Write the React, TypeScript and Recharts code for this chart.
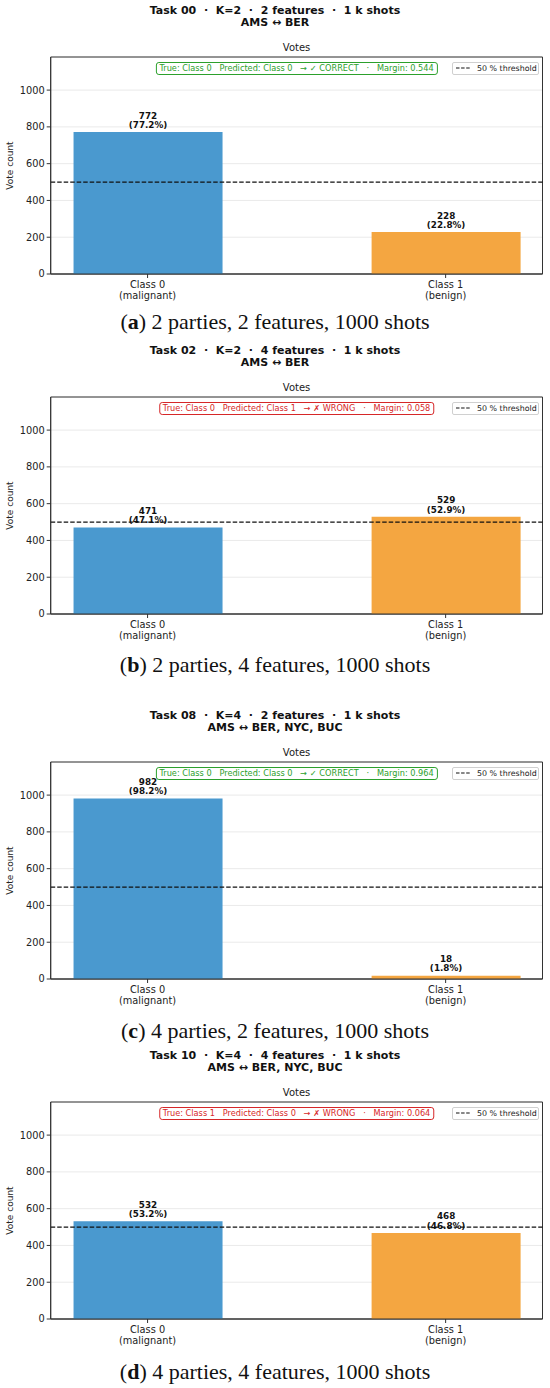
import { BarChart, Bar, XAxis, YAxis, CartesianGrid, ReferenceLine, ReferenceArea, LabelList, Cell } from 'recharts';

const classNames = ['Class 0', 'Class 1'];
const classNotes = ['(malignant)', '(benign)'];
const classPositions = [0, 1];
const barColors = ['#4a99cf', '#f4a641'];

const taskTitles = [
  'Task 00  ·  K=2  ·  2 features  ·  1 k shots',
  'Task 02  ·  K=2  ·  4 features  ·  1 k shots',
  'Task 08  ·  K=4  ·  2 features  ·  1 k shots',
  'Task 10  ·  K=4  ·  4 features  ·  1 k shots',
];
const routes = ['AMS ↔ BER', 'AMS ↔ BER', 'AMS ↔ BER, NYC, BUC', 'AMS ↔ BER, NYC, BUC'];
const class0Votes = [772, 471, 982, 532];
const class1Votes = [228, 529, 18, 468];
const trueClass = [0, 0, 0, 1];
const predictedClass = [0, 1, 0, 0];
const margins = ['0.544', '0.058', '0.964', '0.064'];
const captionLetters = ['a', 'b', 'c', 'd'];
const captionTexts = [
  '2 parties, 2 features, 1000 shots',
  '2 parties, 4 features, 1000 shots',
  '4 parties, 2 features, 1000 shots',
  '4 parties, 4 features, 1000 shots',
];
const yTicks = [0, 200, 400, 600, 800, 1000];
const yMax = 1180;
const threshold = 500;
const totalShots = 1000;
const xDomain = [-0.325, 1.325];

// layout (page pixels)
const plotTops = [56.7, 396.7, 761.7, 1101.7];
const captionYs = [322, 665, 1031, 1372];
const PLOT_LEFT = 50.7;
const PLOT_RIGHT = 542.5;
const PLOT_H = 217;
const SANS = '"DejaVu Sans", sans-serif';

const XTick = (props: any) => {
  const { x, y, payload } = props;
  const i = payload.value;
  return (
    <text x={x} y={y} textAnchor="middle" fontSize={9.8} fill="#222" fontFamily={SANS}>
      <tspan x={x} dy={8}>{classNames[i]}</tspan>
      <tspan x={x} dy={11}>{classNotes[i]}</tspan>
    </text>
  );
};

const BarLabel = (props: any) => {
  const { x, y, width, value } = props;
  const cx = x + width / 2;
  return (
    <text x={cx} y={y - 13.5} textAnchor="middle" fontSize={8.8} fontWeight="bold" fill="#111" fontFamily={SANS}>
      <tspan x={cx}>{value}</tspan>
      <tspan x={cx} dy={9.3}>({((value / totalShots) * 100).toFixed(1)}%)</tspan>
    </text>
  );
};

function Panel({ i }: { i: number }) {
  const top = plotTops[i];
  const data = classPositions.map((p, k) => ({
    pos: p,
    votes: k === 0 ? class0Votes[i] : class1Votes[i],
  }));
  const correct = trueClass[i] === predictedClass[i];
  const noteColor = correct ? '#2ca02c' : '#d62728';
  const noteText = `True: Class ${trueClass[i]}   Predicted: Class ${predictedClass[i]}   → ${correct ? '✓ CORRECT' : '✗ WRONG'}   ·   Margin: ${margins[i]}`;
  const axesCenter = (PLOT_LEFT + PLOT_RIGHT) / 2;

  return (
    <>
      <div style={{ position: 'absolute', left: 0, width: 550, top: top - 52, textAlign: 'center', fontFamily: SANS, fontWeight: 'bold', fontSize: 11, lineHeight: '12.3px', whiteSpace: 'pre', color: '#111' }}>
        {taskTitles[i]}
        <br />
        {routes[i]}
      </div>
      <div style={{ position: 'absolute', left: axesCenter - 50, width: 100, top: top - 15, textAlign: 'center', fontFamily: SANS, fontSize: 10, lineHeight: '12px', color: '#222' }}>
        Votes
      </div>
      <div style={{ position: 'absolute', left: 0, top: top - 20 }}>
        <BarChart width={550} height={20 + PLOT_H + 32} data={data} margin={{ top: 20, right: 550 - PLOT_RIGHT, bottom: 0, left: 0 }}>
          <CartesianGrid vertical={false} stroke="#e4e4e4" strokeWidth={0.8} />
          <XAxis
            dataKey="pos"
            type="number"
            domain={xDomain}
            ticks={classPositions}
            allowDataOverflow
            height={32}
            tickSize={4}
            tick={<XTick />}
            stroke="#333"
            interval={0}
          />
          <YAxis
            type="number"
            domain={[0, yMax]}
            ticks={yTicks}
            allowDataOverflow
            width={PLOT_LEFT}
            tickSize={4}
            tickMargin={2}
            stroke="#333"
            tick={{ fontSize: 9.8, fill: '#222', fontFamily: SANS }}
            label={{ value: 'Vote count', angle: -90, position: 'insideLeft', offset: 10, style: { textAnchor: 'middle', fontSize: 9, fill: '#222', fontFamily: SANS } }}
          />
          <Bar dataKey="votes" barSize={149} isAnimationActive={false}>
            {data.map((d, k) => (
              <Cell key={k} fill={barColors[k]} />
            ))}
            <LabelList dataKey="votes" content={<BarLabel />} />
          </Bar>
          <ReferenceLine y={threshold} stroke="#111" strokeWidth={1.2} strokeDasharray="4.5 2" />
          <ReferenceArea x1={xDomain[0]} x2={xDomain[1]} y1={0} y2={yMax} fill="none" stroke="#333" strokeWidth={1} ifOverflow="visible" />
        </BarChart>
      </div>
      <div
        style={{
          position: 'absolute',
          left: axesCenter,
          transform: 'translateX(-50%)',
          top: top + 5.5,
          height: 10.5,
          lineHeight: '10.5px',
          padding: '0 3px',
          border: `1.3px solid ${noteColor}`,
          borderRadius: 3,
          background: '#fff',
          color: noteColor,
          fontFamily: SANS,
          fontSize: 8.2,
          whiteSpace: 'pre',
        }}
      >
        {noteText}
      </div>
      <div
        style={{
          position: 'absolute',
          left: 452,
          width: 87,
          top: top + 5,
          height: 13,
          border: '0.8px solid #d0d0d0',
          borderRadius: 2,
          background: '#fff',
          boxSizing: 'border-box',
          display: 'flex',
          alignItems: 'center',
          fontFamily: SANS,
          fontSize: 7.9,
          color: '#222',
          whiteSpace: 'pre',
        }}
      >
        <svg width={22} height={10} style={{ marginLeft: 2 }}>
          <line x1={1} y1={5} x2={15} y2={5} stroke="#111" strokeWidth={1.2} strokeDasharray="3.5 1.6" />
        </svg>
        50 % threshold
      </div>
      <div style={{ position: 'absolute', left: 0, width: 550, top: captionYs[i] - 14, textAlign: 'center', fontFamily: '"Liberation Serif", serif', fontSize: 22, lineHeight: '28px', color: '#111' }}>
        (<b>{captionLetters[i]}</b>) {captionTexts[i]}
      </div>
    </>
  );
}

export default function App() {
  return (
    <div style={{ position: 'absolute', left: 0, top: 0, width: 550, height: 1388, background: '#fff', overflow: 'hidden' }}>
      {plotTops.map((_, i) => (
        <Panel key={i} i={i} />
      ))}
    </div>
  );
}
